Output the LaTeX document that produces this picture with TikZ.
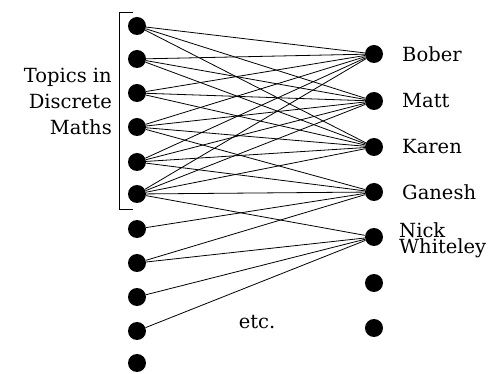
\documentclass[tikz,border=0pt]{standalone}
\usepackage{fontspec}
\setmainfont{DejaVu Serif}
\begin{document}
\begin{tikzpicture}[x=1pt,y=-1pt,
  dot/.style={circle,fill=black,inner sep=0pt,minimum size=18pt},
  link/.style={line width=0.8pt},
  lbl/.style={font=\fontsize{19.5}{26}\selectfont,inner sep=0pt}]
\useasboundingbox (0,0) rectangle (499,374);

% topics (left column)
\foreach \i/\y in {1/26,2/59,3/93,4/127,5/162,6/194,7/229,8/263,9/297,10/331,11/363}
  \node[dot] (L\i) at (137,\y) {};
% people (right column)
\foreach \j/\y in {1/54,2/101,3/147,4/192,5/237,6/283,7/328}
  \node[dot] (R\j) at (374,\y) {};

% who teaches what
\foreach \i in {1,...,6}
  \foreach \j in {1,2,3}
    \draw[link] (L\i) -- (R\j);
\foreach \i in {4,...,8}
  \draw[link] (L\i) -- (R4);
\foreach \i in {6,8,9,10}
  \draw[link] (L\i) -- (R5);

% bracket grouping the discrete maths topics
\coordinate (bt) at (133,12);
\coordinate (bb) at (133,209);
\draw[line width=0.8pt] (bt) -- (119,12) -- (119,209) -- (bb);

\node[lbl,align=right,anchor=east] (topics) at (112,101) {Topics in\\Discrete\\Maths};

\node[lbl,anchor=west] (bober) at (402,54) {Bober};
\node[lbl,anchor=west] (matt) at (402,101) {Matt};
\node[lbl,anchor=west] (karen) at (402,147) {Karen};
\node[lbl,anchor=west] (ganesh) at (402,192) {Ganesh};
\node[lbl,font=\fontsize{19.5}{16}\selectfont,align=left,anchor=base west] (nick) at (399,254) {Nick\\Whiteley};

\node[lbl,anchor=base] (etc) at (257,329) {etc.};
\end{tikzpicture}
\end{document}
